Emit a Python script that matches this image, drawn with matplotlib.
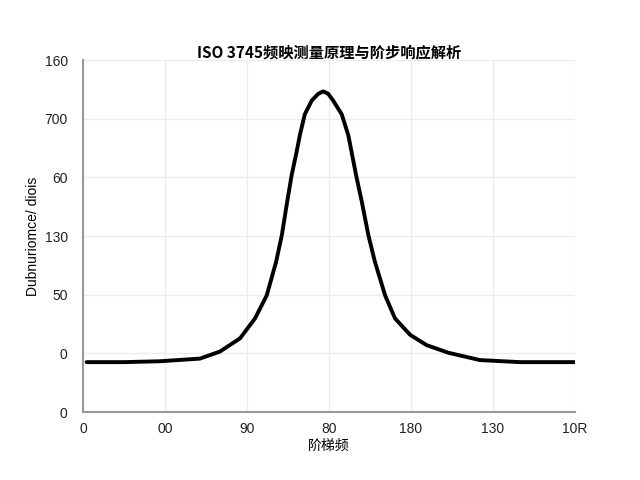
import matplotlib
matplotlib.use("Agg")
import matplotlib.pyplot as plt

plt.rcParams['font.family'] = ['Liberation Sans', 'Noto Sans CJK SC', 'DejaVu Sans']

title = "ISO 3745频映测量原理与阶步响应解析"
xlabel = "阶梯频"
ylabel = "Dubnuriomce/ diois"

x_ticks = [0, 20, 40, 60, 80, 100, 120]
x_tick_labels = ["0", "00", "90", "80", "180", "130", "10R"]
y_ticks = [0, 20, 40, 60, 80, 100, 120]
y_tick_labels = ["0", "0", "50", "130", "60", "700", "160"]

curve_x = [0.9, 10.0, 18.8, 28.5, 33.4, 38.3, 41.95, 44.8, 47.1, 48.5, 49.8, 50.9,
           52.1, 52.9, 54.1, 55.8, 57.4, 58.6, 59.8, 61.0, 63.1, 64.7, 65.5, 66.6, 68.0,
           69.6, 71.2, 73.7, 76.1, 79.8, 83.8, 89.1, 96.8, 106.6, 120.0]
curve_y = [17.0, 17.0, 17.3, 18.2, 20.6, 25.1, 31.9, 39.7, 51.2, 60.3, 71.7, 80.8,
           88.7, 94.4, 101.5, 106.2, 108.5, 109.3, 108.5, 106.2, 101.5, 94.4, 88.7, 80.8, 71.7,
           60.3, 51.2, 39.7, 31.9, 26.3, 22.8, 20.2, 17.7, 17.0, 17.0]

fig = plt.figure(figsize=(6.4, 4.8), dpi=100)
ax = fig.add_axes([83/640, 68/480, (575-83)/640, (412-60)/480])

ax.plot(curve_x, curve_y, color='black', linewidth=2.8, solid_joinstyle='round',
        solid_capstyle='round')

ax.set_xlim(0, 120)
ax.set_ylim(0, 120)
ax.set_xticks(x_ticks)
ax.set_xticklabels(x_tick_labels)
ax.set_yticks(y_ticks)
ax.set_yticklabels(y_tick_labels)
ax.tick_params(axis='both', length=0, labelsize=10, colors='#222222')
ax.tick_params(axis='x', pad=7)
ax.tick_params(axis='y', pad=11)
ax.grid(True, color='#ececec', linewidth=1.0)
ax.set_axisbelow(True)
for s in ['top', 'right']:
    ax.spines[s].set_visible(False)
for s in ['left', 'bottom']:
    ax.spines[s].set_color('#999999')
    ax.spines[s].set_linewidth(1.5)

ax.set_title(title, fontsize=11, fontweight='bold', pad=1,
             family=['Noto Sans CJK SC', 'DejaVu Sans'])
ax.set_xlabel(xlabel, fontsize=10, labelpad=2, family=['Noto Sans CJK SC', 'DejaVu Sans'])
ax.set_ylabel(ylabel, fontsize=10, labelpad=3)

fig.savefig("out.png", dpi=100)
